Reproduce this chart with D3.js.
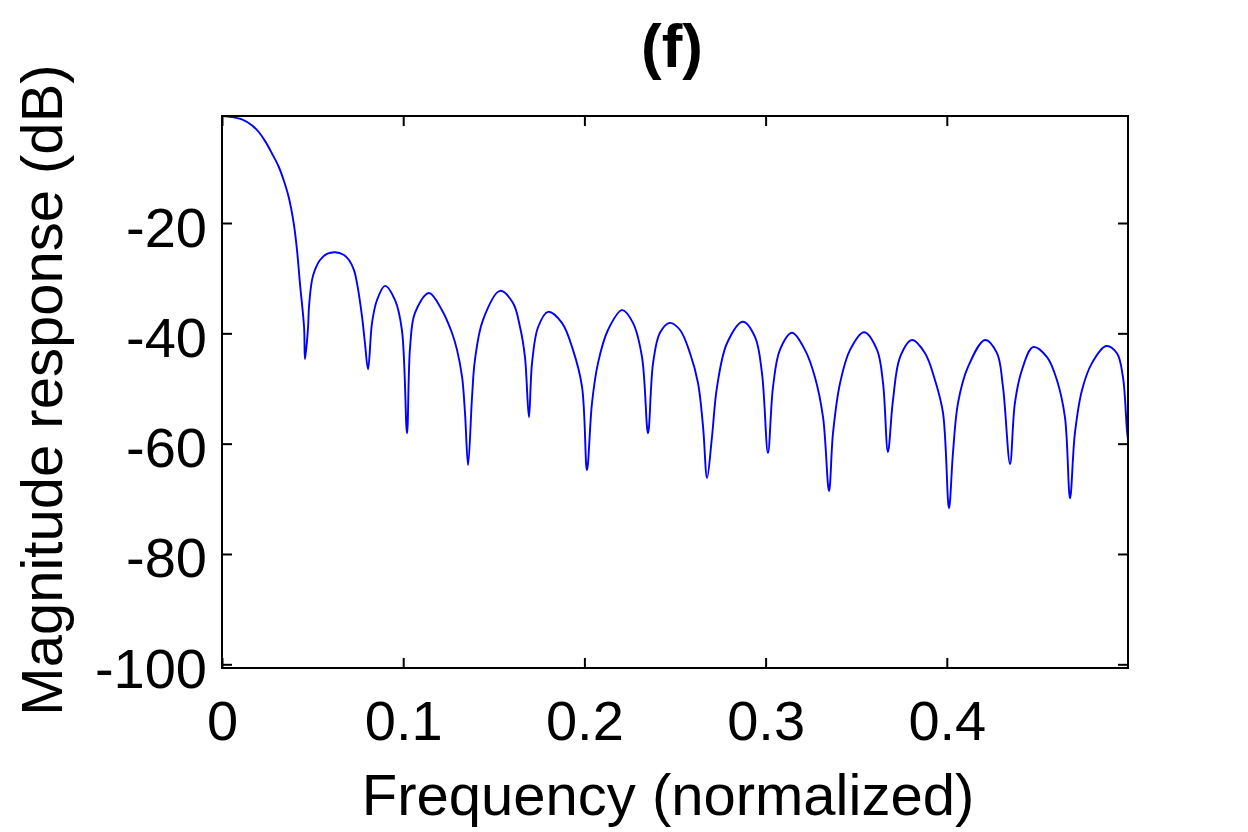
<!doctype html>
<html>
    <head>
        <meta charset="utf-8">
        <script src="https://d3js.org/d3.v7.min.js"></script>
        <style type="text/css">
            body    {
                margin:0;
                background:#ffffff;
            }
            svg {
                display:block;
            }
            text    {
                font-family:"Liberation Sans",Arial,Helvetica,sans-serif;
                fill:#000000;
            }
            .tick line, .frame  {
                stroke:#000000;
                stroke-width:2px;
            }
        </style>
    </head>
    <body>
        <script>
            //frequency response (normalized frequency, dB)
            var freq = [0, 0.0055, 0.0110, 0.0166, 0.0203, 0.0239, 0.0276, 0.0313, 0.0341, 0.0368, 0.0396, 0.0414, 0.0430, 0.0453, 0.0458,
                0.0475, 0.0480, 0.0497, 0.0513, 0.0541, 0.0579, 0.0624, 0.0673, 0.0701, 0.0728, 0.0745, 0.0773, 0.0789, 0.0806,
                0.0828, 0.0855, 0.0900, 0.0955, 0.0993, 0.1021,
                0.1038, 0.1065, 0.1142, 0.1214, 0.1269, 0.1297, 0.1325, 0.1341, 0.1358,
                0.1380, 0.1396, 0.1440, 0.1534, 0.1606, 0.1645, 0.1672, 0.1694,
                0.1711, 0.1744, 0.1799, 0.1876, 0.1937, 0.1987, 0.2014,
                0.2042, 0.2075, 0.2130, 0.2208, 0.2268, 0.2318, 0.2351,
                0.2379, 0.2417, 0.2472, 0.2528, 0.2583, 0.2627, 0.2655, 0.2677,
                0.2704, 0.2732, 0.2787, 0.2875, 0.2942, 0.2980, 0.3013,
                0.3041, 0.3079, 0.3146, 0.3217, 0.3272, 0.3317, 0.3350,
                0.3372, 0.3411, 0.3466, 0.3543, 0.3615, 0.3648, 0.3675,
                0.3703, 0.3742, 0.3808, 0.3880, 0.3935, 0.3979, 0.4012,
                0.4034, 0.4062, 0.4117, 0.4211, 0.4277, 0.4310, 0.4349,
                0.4376, 0.4415, 0.4476, 0.4553, 0.4608, 0.4652, 0.4680,
                0.4707, 0.4746, 0.4801, 0.4879, 0.4939, 0.4972, 0.4994, 0.5];
            var magDb = [-0.6, -0.8, -1.2, -2.3, -3.5, -5.2, -7.4, -9.8, -12.3, -15.3, -20.1, -24.9, -30.9, -38.9, -44.7,
                -38.9, -35.2, -30.3, -28.5, -26.7, -25.6, -25.3, -25.8, -26.7, -28.5, -30.9, -37.0, -41.8, -46.5,
                -38.1, -34.0, -31.4, -34.0, -39.4, -58.1,
                -42.5, -36.3, -32.7, -35.8, -39.9, -43.0, -47.9, -54.4, -63.9,
                -51.5, -44.8, -37.6, -32.3, -34.5, -38.9, -44.3, -55.2,
                -45.4, -38.9, -36.1, -38.1, -43.0, -49.7, -64.8,
                -52.6, -45.4, -39.4, -35.8, -38.1, -44.3, -58.1,
                -45.4, -39.9, -38.1, -39.4, -43.6, -49.0, -57.0, -66.2,
                -58.8, -49.7, -41.8, -37.9, -40.7, -47.2, -61.7,
                -49.7, -43.0, -39.9, -43.0, -47.9, -55.2, -68.6,
                -58.1, -49.0, -43.0, -39.8, -43.0, -49.0, -61.5,
                -52.1, -44.3, -41.2, -43.6, -48.5, -54.4, -71.7,
                -61.7, -52.6, -46.1, -41.2, -43.6, -49.7, -63.7,
                -52.6, -46.6, -42.5, -44.3, -48.5, -55.2, -69.9,
                -58.1, -50.3, -45.4, -42.3, -43.6, -47.9, -57.5, -59.3];

            var xTicks = [0, 0.1, 0.2, 0.3, 0.4];
            var yTicks = [-100, -80, -60, -40, -20];

            var titleText = "(f)";
            var xLabel = "Frequency (normalized)";
            var yLabel = "Magnitude response (dB)";

            var width = 1248, height = 832;
            var margin = {top:116, right:120, bottom:164, left:222};
            var plotW = width - margin.left - margin.right;
            var plotH = height - margin.top - margin.bottom;

            var svg = d3.select("body").append("svg")
                .attr("width", width)
                .attr("height", height);

            var x = d3.scaleLinear().domain([0, 0.5]).range([0, plotW]);
            var y = d3.scaleLinear().domain([-100.67, -0.6]).range([plotH, 0]);

            var g = svg.append("g")
                .attr("transform", "translate(" + margin.left + "," + margin.top + ")");

            //curve
            var pts = d3.zip(freq, magDb);
            var line = d3.line()
                .x(function(d) { return x(d[0]); })
                .y(function(d) { return y(d[1]); })
                .curve(d3.curveCatmullRom.alpha(0.5));

            g.append("path")
                .datum(pts)
                .attr("d", line)
                .attr("fill", "none")
                .attr("stroke", "#0000ff")
                .attr("stroke-width", 1.9);

            //plain hyphen labels like the original
            var plain = function(d) { return String(d); };

            //bottom axis with labels, ticks pointing inward
            var xAxis = g.append("g")
                .attr("transform", "translate(0," + plotH + ")")
                .call(d3.axisBottom(x).tickValues(xTicks).tickSizeInner(-10).tickSizeOuter(0).tickPadding(32).tickFormat(plain));
            xAxis.select(".domain").remove();
            xAxis.selectAll("text").style("font-size", "56px");

            //left axis
            var yAxis = g.append("g")
                .call(d3.axisLeft(y).tickValues(yTicks).tickSizeInner(-10).tickSizeOuter(0).tickPadding(15).tickFormat(plain));
            yAxis.select(".domain").remove();
            yAxis.selectAll("text").attr("dy", "23px").style("font-size", "56px");

            //mirrored ticks on top and right
            var topAxis = g.append("g")
                .call(d3.axisTop(x).tickValues(xTicks).tickSizeInner(-10).tickSizeOuter(0).tickFormat(""));
            topAxis.select(".domain").remove();

            var rightAxis = g.append("g")
                .attr("transform", "translate(" + plotW + ",0)")
                .call(d3.axisRight(y).tickValues(yTicks).tickSizeInner(-10).tickSizeOuter(0).tickFormat(""));
            rightAxis.select(".domain").remove();

            //axes box
            g.append("rect")
                .attr("class", "frame")
                .attr("width", plotW)
                .attr("height", plotH)
                .attr("fill", "none");

            //title and axis labels
            svg.append("text")
                .attr("x", 672)
                .attr("y", 67)
                .attr("text-anchor", "middle")
                .style("font-size", "62px")
                .style("font-weight", "bold")
                .text(titleText);

            svg.append("text")
                .attr("x", 668)
                .attr("y", 815)
                .attr("text-anchor", "middle")
                .style("font-size", "58px")
                .text(xLabel);

            svg.append("text")
                .attr("transform", "translate(62,390) rotate(-90)")
                .attr("text-anchor", "middle")
                .style("font-size", "58px")
                .text(yLabel);
        </script>
    </body>
</html>
